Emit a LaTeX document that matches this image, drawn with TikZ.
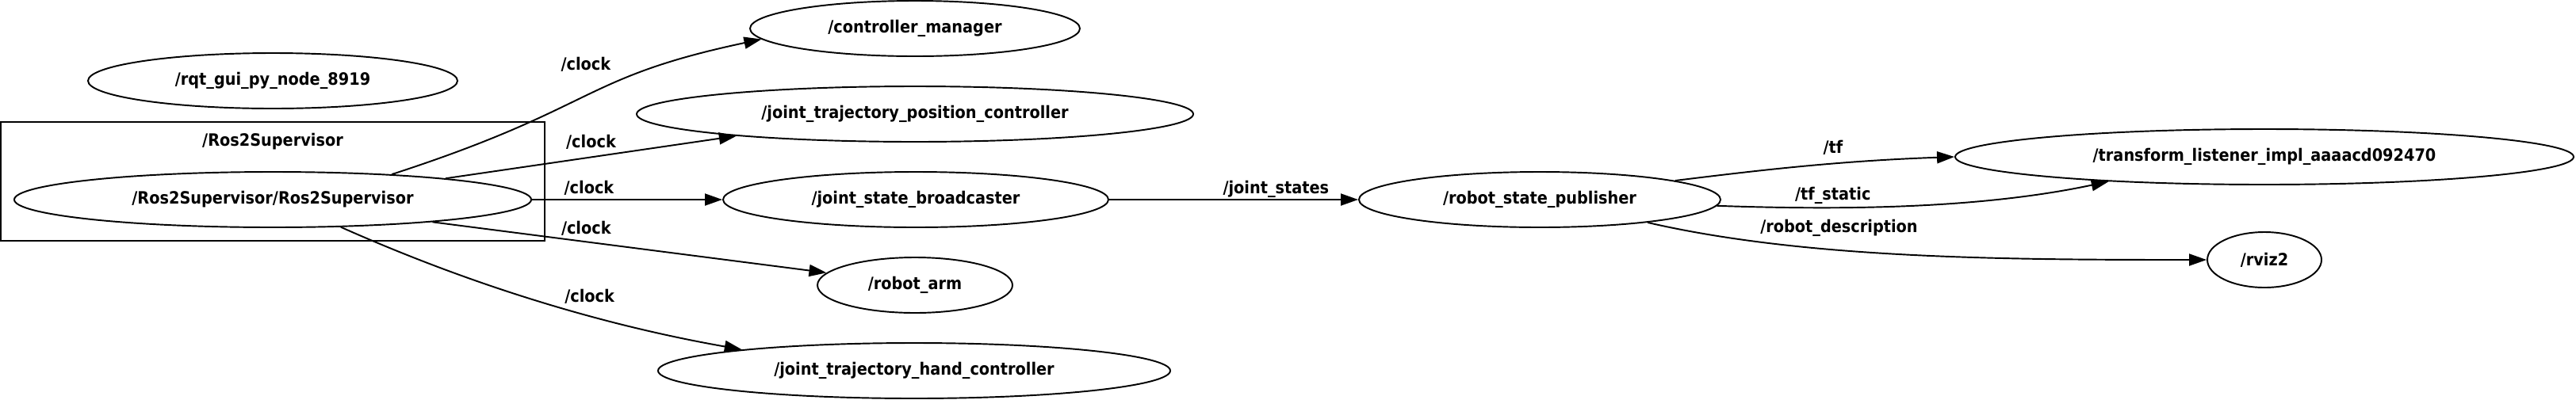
\documentclass[tikz,border=0pt]{standalone}
\usepackage{fontspec}
\setmainfont{DejaVu Sans}[FakeStretch=0.9]
\usepackage{tikz}
\usetikzlibrary{arrows.meta,shapes.geometric}
\usetikzlibrary{positioning}
\tikzset{
    rosnode/.style={
           ellipse,
           draw=black, line width=0.55pt,
           minimum height=0.70cm,
           inner sep=0pt,
           text centered,
           text=black,
           font=\bfseries\fontsize{6.1pt}{7pt}\selectfont
           },
    nsbox/.style={
           rectangle,
           draw=black, line width=0.55pt,
           inner sep=0pt
           },
    topic/.style={
           inner sep=0pt,
           text=black,
           font=\bfseries\fontsize{6.1pt}{7pt}\selectfont
           },
}

\begin{document}
\begin{tikzpicture}[->,>={Triangle[length=0.22cm,width=0.15cm]}, line width=0.55pt]
\useasboundingbox (0,0) rectangle (32.49,5.04);

% Node: supervisor inside its namespace box
\node[rosnode, minimum width=6.52cm] (SUP) at (3.44,2.52) {/Ros2Supervisor/Ros2Supervisor};

\node[nsbox, above of=SUP, node distance=0cm, yshift=0.23cm, minimum width=6.86cm, minimum height=1.50cm] (NSBOX) {};

\node[topic, above of=SUP, node distance=0.73cm] (NSLABEL) {/Ros2Supervisor};

% Node: lonely gui node
\node[rosnode, above of=SUP, node distance=1.50cm, minimum width=4.66cm] (RQT) {/rqt\_gui\_py\_node\_8919};

% Nodes: controllers fed by the clock
\node[rosnode, right of=SUP, node distance=8.10cm, yshift=2.16cm, minimum width=4.16cm] (CTRLMGR) {/controller\_manager};

\node[rosnode, right of=SUP, node distance=8.10cm, yshift=1.08cm, minimum width=7.02cm] (JTPC) {/joint\_trajectory\_position\_controller};

\node[rosnode, right of=SUP, node distance=8.11cm, minimum width=4.86cm] (JSB) {/joint\_state\_broadcaster};

\node[rosnode, right of=SUP, node distance=8.10cm, yshift=-1.08cm, minimum width=2.46cm] (ARM) {/robot\_arm};

\node[rosnode, right of=SUP, node distance=8.09cm, yshift=-2.16cm, minimum width=6.46cm] (JTHC) {/joint\_trajectory\_hand\_controller};

% Nodes: state publisher and its listeners
\node[rosnode, right of=JSB, node distance=7.87cm, minimum width=4.56cm] (RSP) {/robot\_state\_publisher};

\node[rosnode, right of=RSP, node distance=9.14cm, yshift=0.54cm, minimum width=7.80cm] (TFL) {/transform\_listener\_impl\_aaaacd092470};

\node[rosnode, right of=RSP, node distance=9.14cm, yshift=-0.76cm, minimum width=1.44cm] (RVIZ) {/rviz2};

\path (SUP.12.2)  edge[out=18, in=192, out distance=2.74cm, in distance=2.35cm] node[topic, pos=0.5, yshift=0.40cm]{/clock} (CTRLMGR.184.3)
(SUP.7.5)   edge node[topic, pos=0.5, yshift=0.19cm]{/clock} (JTPC.187.2)
(SUP.east)  edge node[topic, pos=0.30, yshift=0.15cm]{/clock} (JSB.west)
(SUP.352.6) edge node[topic, pos=0.39, yshift=0.17cm]{/clock} (ARM.172.4)
(SUP.338.8) edge[out=-24, in=170, out distance=1.80cm, in distance=1.80cm] node[topic, pos=0.63, yshift=0.24cm]{/clock} (JTHC.173.1)
(JSB.east)  edge node[topic, pos=0.67, yshift=0.13cm]{/joint\_states} (RSP.west)
(RSP.8.3)   edge[out=7, in=182, out distance=1.0cm, in distance=1.5cm] node[topic, pos=0.62, yshift=0.20cm]{/tf} (TFL.180.9)
(RSP.358.7) edge[out=-2, in=192, out distance=1.5cm, in distance=1.7cm] node[topic, pos=0.31, yshift=0.155cm]{/tf\_static} (TFL.189.5)
(RSP.348)   edge[out=-13, in=180, out distance=2.05cm, in distance=2.5cm] node[topic, pos=0.37, yshift=0.28cm]{/robot\_description} (RVIZ.west)
;

\end{tikzpicture}
\end{document}
